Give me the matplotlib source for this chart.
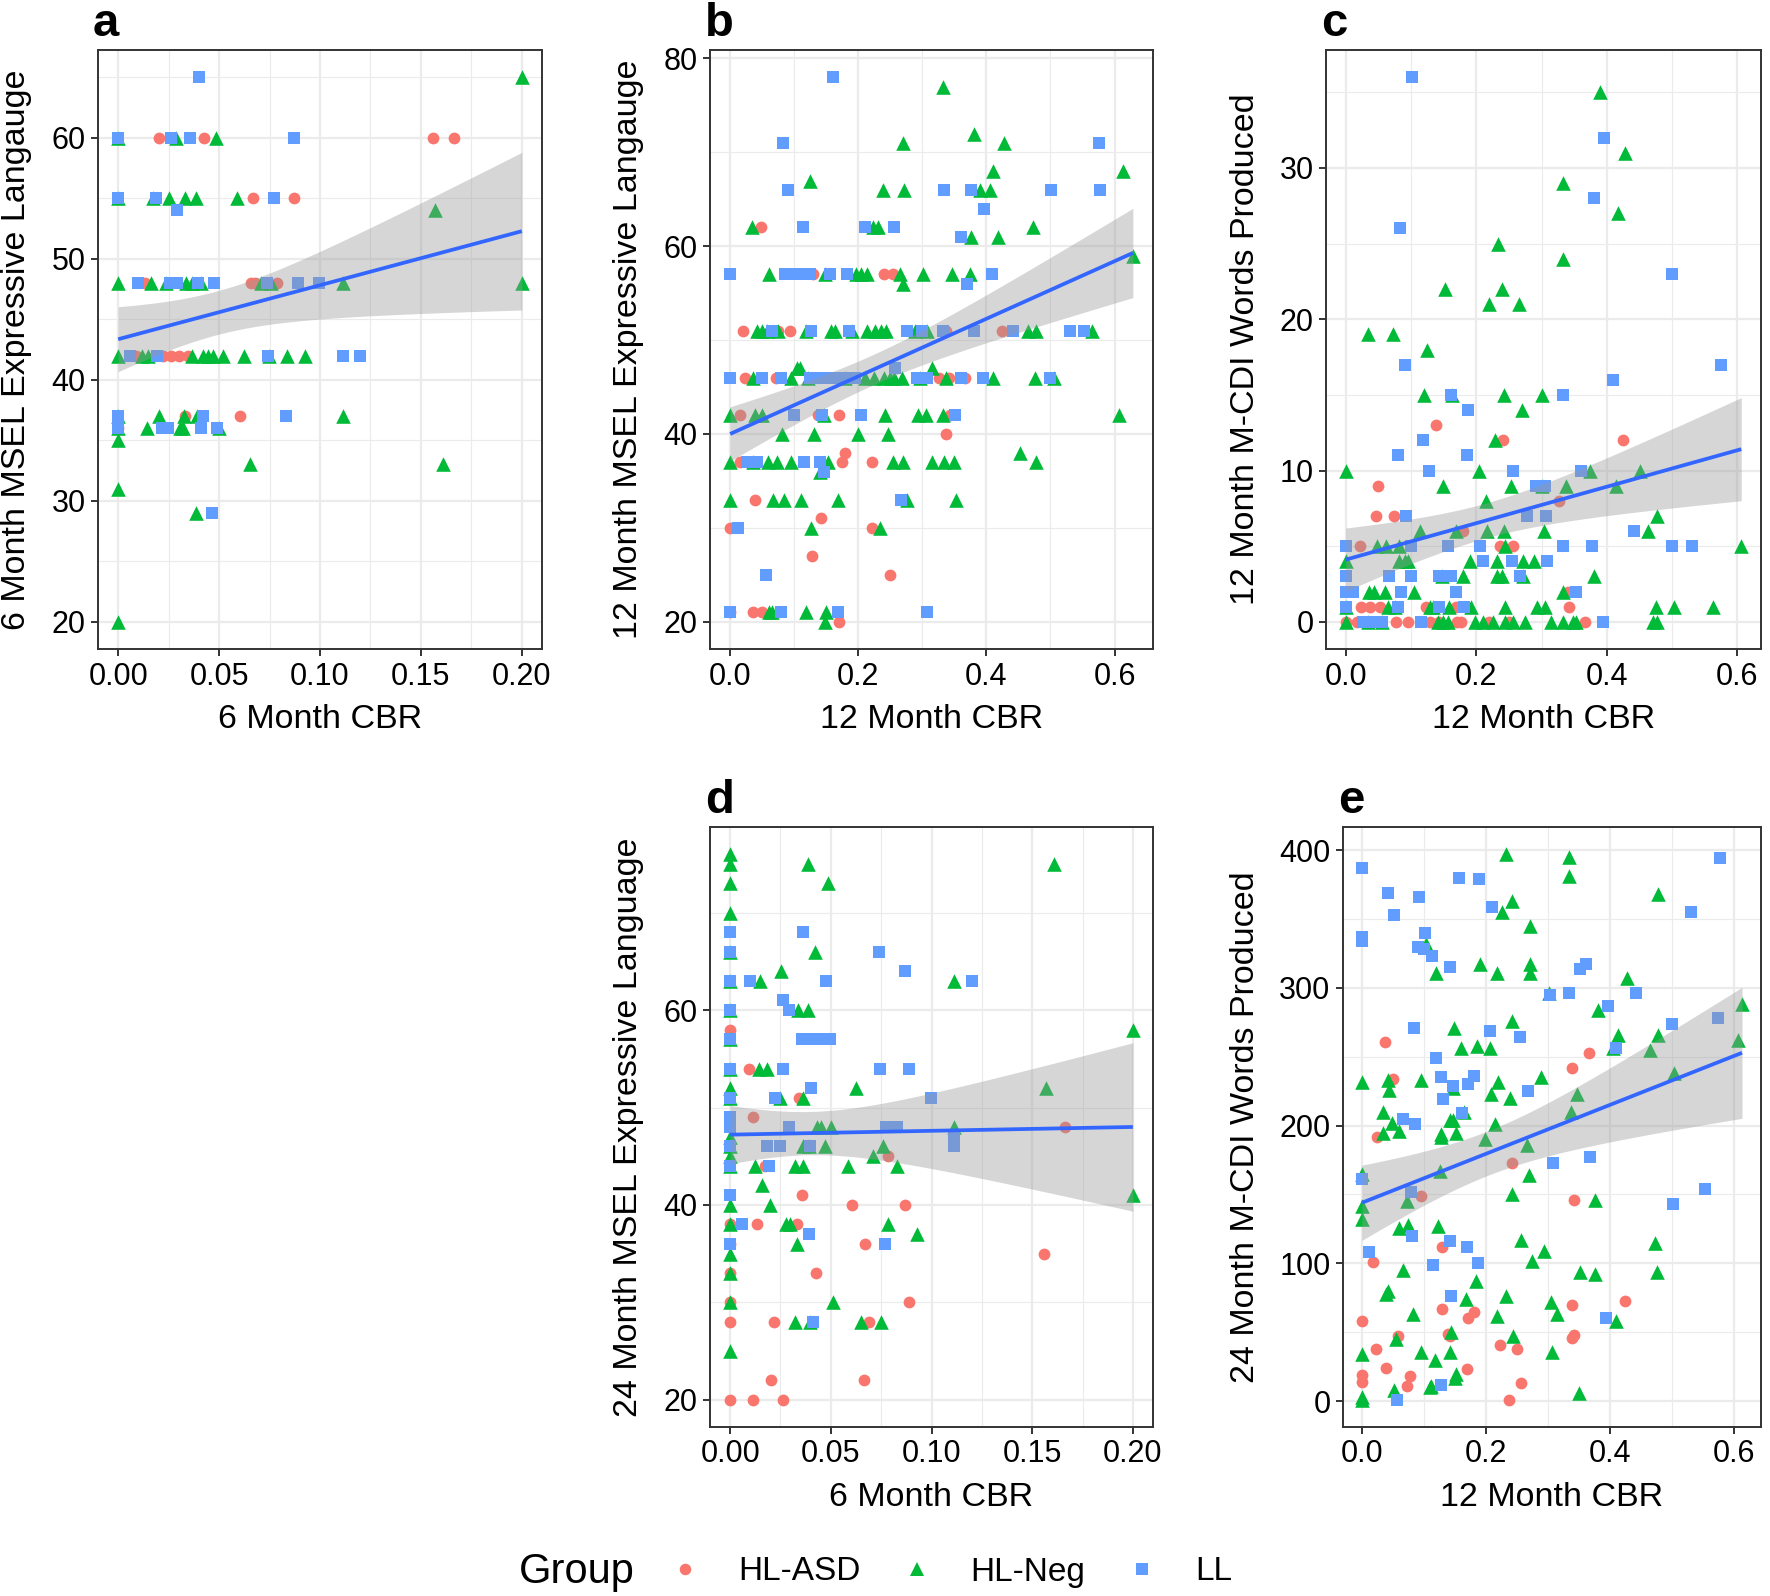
import numpy as np
import matplotlib
matplotlib.use("Agg")
import matplotlib.pyplot as plt
from matplotlib.lines import Line2D
from matplotlib.ticker import FixedLocator, FormatStrFormatter

plt.rcParams['font.family'] = ['Liberation Sans', 'DejaVu Sans']

groups = ["HL-ASD", "HL-Neg", "LL"]
colors = {"HL-ASD": "#F8766D", "HL-Neg": "#00BA38", "LL": "#619CFF"}
markers = {"HL-ASD": "o", "HL-Neg": "^", "LL": "s"}
msize = {"HL-ASD": 72, "HL-Neg": 110, "LL": 66}

# ---------------- panel a : 6 month CBR vs 6 month MSEL EL ----------------
a_asd = [(0.0203,60),(0.0426,60),(0.1558,60),(0.1666,60),(0.067,55),(0.0869,55),
         (0.0132,48),(0.066,48),(0.068,48),(0.0785,48),(0.009,42),(0.022,42),(0.0264,42),
         (0.030,42),(0.0347,42),(0.033,37),(0.0603,37),(0,36)]
a_neg = [(0.2,65),(0,60),(0.0286,60),(0.0484,60),(0,55),(0.0174,55),(0.0253,55),(0.033,55),
         (0.0388,55),(0.059,55),(0.157,54),(0,48),(0.0162,48),(0.0236,48),(0.0335,48),(0.0365,48),
         (0.041,48),(0.071,48),(0.0755,48),(0.1115,48),(0.2,48),(0,42),(0.0116,42),(0.0149,42),
         (0.0364,42),(0.0421,42),(0.0445,42),(0.047,42),(0.0517,42),(0.0625,42),(0.0749,42),
         (0.0835,42),(0.0925,42),(0,37),(0.0202,37),(0.0326,37),(0.039,37),(0.1112,37),(0,36),
         (0.0145,36),(0.0306,36),(0.0322,36),(0.05,36),(0,35),(0.0653,33),(0.161,33),(0,31),
         (0.0388,29),(0,20)]
a_ll = [(0.040,65),(0,60),(0.0264,60),(0.0355,60),(0.0869,60),(0,55),(0.0187,55),(0.0772,55),
        (0.0289,54),(0.0099,48),(0.0256,48),(0.029,48),(0.0397,48),(0.0474,48),(0.0739,48),
        (0.0892,48),(0.0997,48),(0.0058,42),(0.019,42),(0.0744,42),(0.1112,42),(0.1198,42),
        (0,37),(0.0421,37),(0.0831,37),(0,36),(0.0215,36),(0.0248,36),(0.041,36),(0.0488,36),
        (0.0464,29)]

# ---------------- panel b : 12 month CBR vs 12 month MSEL EL ----------------
b_asd = [(0.0478,62),(0.13,57),(0.2405,57),(0.2545,57),(0.0208,51),(0.075,51),(0.0935,51),
         (0.3366,51),(0.4244,51),(0.0234,46),(0.0717,46),(0.326,46),(0.342,46),(0.366,46),
         (0.0156,42),(0.1377,42),(0.170,42),(0.343,42),(0.3366,40),(0.1797,38),(0.0156,37),
         (0.175,37),(0.2218,37),(0.039,33),(0.1418,31),(0,30),(0.2218,30),(0.127,27),(0.249,25),
         (0,21),(0.0364,21),(0.0504,21),(0.170,20)]
b_neg = [(0.333,77),(0.381,72),(0.270,71),(0.4275,71),(0.411,68),(0.613,68),(0.1247,67),
         (0.238,66),(0.271,66),(0.39,66),(0.405,66),(0.0338,62),(0.2234,62),(0.231,62),(0.4727,62),
         (0.3766,61),(0.418,61),(0.6286,59),(0.0613,57),(0.148,57),(0.197,57),(0.205,57),(0.213,57),
         (0.265,57),(0.301,57),(0.3465,57),(0.375,57),(0.270,56),(0.0416,51),(0.049,51),(0.057,51),
         (0.074,51),(0.119,51),(0.158,51),(0.164,51),(0.19,51),(0.213,51),(0.226,51),(0.236,51),
         (0.244,51),(0.288,51),(0.3065,51),(0.465,51),(0.478,51),(0.565,51),(0.104,47),(0.109,47),
         (0.315,47),(0.036,46),(0.0945,46),(0.121,46),(0.180,46),(0.21,46),(0.225,46),(0.24,46),
         (0.25,46),(0.256,46),(0.269,46),(0.296,46),(0.3377,46),(0.410,46),(0.476,46),(0.505,46),
         (0,42),(0.039,42),(0.049,42),(0.1465,42),(0.2416,42),(0.2935,42),(0.3055,42),(0.3325,42),
         (0.6062,42),(0.0805,40),(0.1314,40),(0.20,40),(0.2457,40),(0.452,38),(0,37),(0.035,37),
         (0.0587,37),(0.0727,37),(0.0945,37),(0.153,37),(0.2535,37),(0.270,37),(0.315,37),(0.334,37),
         (0.349,37),(0.4769,37),(0.141,36),(0,33),(0.0675,33),(0.0842,33),(0.1106,33),(0.168,33),
         (0.276,33),(0.352,33),(0.126,30),(0.2338,30),(0.0608,21),(0.066,21),(0.1184,21),(0.1496,21),
         (0.1486,20)]
b_ll = [(0.160,78),(0.083,71),(0.575,71),(0.0899,66),(0.3335,66),(0.3766,66),(0.501,66),(0.577,66),
        (0.396,64),(0.1143,62),(0.2104,62),(0.2556,62),(0.361,61),(0,57),(0.085,57),(0.095,57),
        (0.105,57),(0.115,57),(0.125,57),(0.156,57),(0.182,57),(0.409,57),(0.369,56),(0.065,51),
        (0.126,51),(0.186,51),(0.276,51),(0.299,51),(0.3325,51),(0.380,51),(0.4416,51),(0.53,51),
        (0.553,51),(0.257,47),(0,46),(0.0504,46),(0.0795,46),(0.125,46),(0.135,46),(0.145,46),
        (0.155,46),(0.165,46),(0.175,46),(0.185,46),(0.195,46),(0.291,46),(0.3065,46),(0.361,46),
        (0.394,46),(0.4987,46),(0.100,42),(0.143,42),(0.205,42),(0.3506,42),(0.026,37),(0.0416,37),
        (0.1158,37),(0.141,37),(0.1465,36),(0.2665,33),(0.012,30),(0.0561,25),(0,21),(0.079,21),
        (0.1688,21),(0.308,21)]

# ---------------- panel c : 12 month CBR vs 12 month M-CDI words ----------------
c_asd = [(0.139,13),(0.241,12),(0.4245,12),(0.05,9),(0.3275,8),(0.047,7),(0.0735,7),(0.18,6),
         (0.0225,5),(0.237,5),(0.256,5),(0.341,2),(0.0235,1),(0.037,1),(0.0525,1),(0.1225,1),
         (0.1685,1),(0.342,1),(0,0),(0.017,0),(0.077,0),(0.095,0),(0.1285,0),(0.1425,0),(0.171,0),
         (0.177,0),(0.22,0),(0.25,0),(0.366,0)]
c_neg = [(0.39,35),(0.4275,31),(0.3335,29),(0.4175,27),(0.2335,25),(0.3335,24),(0.1525,22),
         (0.2395,22),(0.2195,21),(0.266,21),(0.0345,19),(0.072,19),(0.125,18),(0.12,15),(0.1635,15),
         (0.2425,15),(0.301,15),(0.27,14),(0.2285,12),(0,10),(0.2045,10),(0.375,10),(0.451,10),
         (0.149,9),(0.2525,9),(0.30,9),(0.3375,9),(0.4135,9),(0.2145,8),(0.477,7),(0.114,6),
         (0.169,6),(0.217,6),(0.242,6),(0.304,6),(0.4635,6),(0.0485,5),(0.061,5),(0.081,5),
         (0.2435,5),(0.606,5),(0,4),(0.081,4),(0.091,4),(0.096,4),(0.191,4),(0.2325,4),(0.271,4),
         (0.2885,4),(0.147,3),(0.18,3),(0.231,3),(0.24,3),(0.271,3),(0.381,3),(0.035,2),(0.0435,2),
         (0.0595,2),(0.1045,2),(0.3335,2),(0,1),(0.065,1),(0.076,1),(0.1285,1),(0.1335,1),
         (0.1585,1),(0.192,1),(0.2445,1),(0.2935,1),(0.306,1),(0.476,1),(0.5035,1),(0.5635,1),
         (0,0),(0.0335,0),(0.056,0),(0.141,0),(0.1485,0),(0.156,0),(0.1985,0),(0.211,0),(0.226,0),
         (0.2435,0),(0.256,0),(0.275,0),(0.315,0),(0.3325,0),(0.3485,0),(0.3535,0),(0.471,0),
         (0.4775,0)]
c_ll = [(0.101,36),(0.396,32),(0.381,28),(0.0835,26),(0.4995,23),(0.091,17),(0.5745,17),
        (0.4095,16),(0.161,15),(0.3325,15),(0.188,14),(0.119,12),(0.08,11),(0.186,11),(0.127,10),
        (0.257,10),(0.361,10),(0.291,9),(0.305,9),(0.092,7),(0.277,7),(0.3075,7),(0.442,6),(0,5),
        (0.10,5),(0.156,5),(0.205,5),(0.3325,5),(0.3775,5),(0.4995,5),(0.531,5),(0.21,4),(0.255,4),
        (0.3085,4),(0,3),(0.066,3),(0.10,3),(0.1435,3),(0.161,3),(0.267,3),(0,2),(0.011,2),
        (0.085,2),(0.169,2),(0.3535,2),(0,1),(0.0795,1),(0.1435,1),(0.181,1),(0.026,0),(0.041,0),
        (0.056,0),(0.116,0),(0.394,0)]

# ---------------- panel d : 6 month CBR vs 24 month MSEL EL ----------------
d_asd = [(0,58),(0.0096,54),(0.0342,51),(0.0112,49),(0.1664,48),(0.0782,45),(0.0174,44),
         (0.0355,41),(0.0603,40),(0.0868,40),(0,38),(0.0132,38),(0.033,38),(0,36),(0.067,36),
         (0.1557,35),(0,33),(0.0426,33),(0,30),(0.0888,30),(0,28),(0.022,28),(0.0689,28),
         (0.0202,22),(0.0664,22),(0,20),(0.0116,20),(0.0264,20)]
d_neg = [(0,76),(0,75),(0.0388,75),(0.161,75),(0,73),(0.0484,73),(0,70),(0,66),(0.042,66),
         (0.0253,64),(0,63),(0.0149,63),(0.111,63),(0,60),(0.0336,60),(0.0385,60),(0.2,58),(0,57),
         (0,54),(0.0145,54),(0.0185,54),(0,52),(0.0625,52),(0.157,52),(0,51),(0.0248,51),
         (0.0364,51),(0.043,48),(0.045,48),(0.050,48),(0.111,48),(0,47),(0,46),(0.0364,46),
         (0.0393,46),(0.047,46),(0.0757,46),(0,45),(0.071,45),(0,44),(0.0124,44),(0.0322,44),
         (0.0364,44),(0.0587,44),(0.0831,44),(0.0157,42),(0,40),(0.0198,40),(0.2,41),(0,38),
         (0.0278,38),(0.0298,38),(0.0785,38),(0.0926,37),(0.033,36),(0,35),(0,33),(0,30),
         (0.0512,30),(0.0322,28),(0.0397,28),(0.065,28),(0.0747,28),(0,25)]
d_ll = [(0,68),(0.0364,68),(0,66),(0.0739,66),(0.0868,64),(0,63),(0.0099,63),(0.0474,63),
        (0.12,63),(0.0264,61),(0,60),(0.029,60),(0,57),(0.0355,57),(0.0397,57),(0.0455,57),
        (0.0496,57),(0,54),(0.0261,54),(0.0744,54),(0.0889,54),(0,51),(0.0223,51),(0.04,52),
        (0.0997,51),(0,49),(0,48),(0.0293,48),(0.0772,48),(0.083,48),(0.111,47),(0.111,46),
        (0,46),(0.0185,46),(0.0248,46),(0.0397,46),(0,44),(0.0195,44),(0,41),(0.0061,38),
        (0.0393,37),(0,36),(0.0769,36),(0.0413,28)]

# ---------------- panel e : 12 month CBR vs 24 month M-CDI words ----------------
e_asd = [(0.0373,261),(0.366,253),(0.3384,242),(0.0497,234),(0.0243,192),(0.2416,173),
         (0.0946,149),(0.3427,146),(0.1292,112),(0.0173,101),(0.339,70),(0.4254,73),(0.1286,67),
         (0.1805,65),(0.1714,60),(0,58),(0.0578,47),(0.139,49),(0.1427,47),(0.339,46),(0.3416,48),
         (0.0227,38),(0.2227,41),(0.25,38),(0.039,24),(0.1703,23),(0,19),(0,14),(0.0768,18),
         (0.073,11),(0.256,13),(0.2373,1)]
e_neg = [(0.2324,397),(0.3335,395),(0.3335,381),(0.478,368),(0.2427,363),(0.2254,355),(0.2714,345),
         (0.1038,332),(0.119,311),(0.191,317),(0.2173,311),(0.2714,317),(0.2714,311),(0.428,307),
         (0.3016,296),(0.3805,284),(0.6135,288),(0.2422,276),(0.1486,271),(0.413,266),(0.478,266),
         (0.6065,262),(0.1595,256),(0.186,258),(0.2065,256),(0.405,256),(0.4643,255),(0.5038,238),
         (0.0427,233),(0,232),(0.0946,233),(0.22,232),(0.2886,235),(0.147,227),(0.0432,226),
         (0.2076,223),(0.239,220),(0.347,223),(0.0346,210),(0.0486,202),(0.0346,195),(0.059,196),
         (0.127,194),(0.127,192),(0.1416,204),(0.147,204),(0.1524,195),(0.165,210),(0.2146,201),
         (0.3373,210),(0.198,190),(0.266,186),(0.1254,167),(0.27,164),(0,165),(0.2427,150),
         (0.3757,146),(0,142),(0.0724,145),(0,132),(0.059,126),(0.074,128),(0.1227,127),(0.2568,117),
         (0.2946,109),(0.2751,102),(0.473,115),(0.4768,94),(0.0665,95),(0.3514,94),(0.3757,92),
         (0.1838,87),(0.039,78),(0.0416,80),(0.1686,74),(0.2324,76),(0.305,72),(0.3146,63),
         (0.0822,63),(0.2184,62),(0.41,58),(0.0551,45),(0.1443,50),(0.2432,47),(0,34),(0.0946,36),
         (0.1427,36),(0.3065,36),(0.1173,30),(0.1514,20),(0.1497,17),(0.1103,10),(0.112,11),
         (0.0524,8),(0,3),(0,1),(0.3497,6)]
e_ll = [(0.578,394),(0,387),(0.156,380),(0.1886,379),(0.0427,369),(0.0924,366),(0.210,359),
        (0.531,355),(0.0514,353),(0.101,340),(0,337),(0,334),(0.0903,330),(0.1,328),(0.1135,323),
        (0.1427,315),(0.3524,314),(0.3616,317),(0.3038,295),(0.3335,296),(0.4427,296),(0.3968,287),
        (0.5,274),(0.575,278),(0.0838,271),(0.2065,269),(0.255,264),(0.41,256),(0.119,249),
        (0.127,235),(0.181,236),(0.1714,230),(0.147,229),(0.2676,225),(0.1308,219),(0.066,205),
        (0.086,201),(0.1616,209),(0.3076,173),(0.3686,177),(0,161),(0.5535,154),(0.5027,143),
        (0.0795,152),(0.0805,120),(0.1427,116),(0.1697,112),(0.0119,108),(0.1151,99),(0.1865,100),
        (0.1443,76),(0.394,60),(0.127,12),(0.0568,1)]

# tick values
a_xticks = [0, 0.05, 0.10, 0.15, 0.20]; a_yticks = [20, 30, 40, 50, 60]
b_xticks = [0, 0.2, 0.4, 0.6];          b_yticks = [20, 40, 60, 80]
c_xticks = [0, 0.2, 0.4, 0.6];          c_yticks = [0, 10, 20, 30]
d_xticks = [0, 0.05, 0.10, 0.15, 0.20]; d_yticks = [20, 40, 60]
e_xticks = [0, 0.2, 0.4, 0.6];          e_yticks = [0, 100, 200, 300, 400]

W, H = 1770, 1596
fig = plt.figure(figsize=(W / 100, H / 100), dpi=100)

TICK_FS = 22
LAB_FS = 24.5

def t975(df):
    z = 1.959964
    return z + (z**3 + z) / (4 * df) + (5 * z**5 + 16 * z**3 + 3 * z) / (96 * df**2)

def panel(box, data, xticks, yticks, xfmt, xlabel, ylabel, letter, ylab_x):
    left, right, top, bottom = box
    ax = fig.add_axes([left / W, 1 - bottom / H, (right - left) / W, (bottom - top) / H])
    allx, ally = [], []
    for g, pts in zip(groups, data):
        x = np.array([p[0] for p in pts]); y = np.array([p[1] for p in pts])
        allx.append(x); ally.append(y)
        ax.scatter(x, y, s=msize[g], marker=markers[g], color=colors[g], linewidths=0, zorder=2)
    X = np.concatenate(allx); Y = np.concatenate(ally)
    # linear fit with 95% confidence band (geom_smooth(method = "lm"))
    n = len(X)
    slope, icpt = np.polyfit(X, Y, 1)
    resid = Y - (icpt + slope * X)
    s = np.sqrt(np.sum(resid**2) / (n - 2))
    xs = np.linspace(X.min(), X.max(), 80)
    se = s * np.sqrt(1 / n + (xs - X.mean())**2 / np.sum((X - X.mean())**2))
    fit = icpt + slope * xs
    tq = t975(n - 2)
    ax.fill_between(xs, fit - tq * se, fit + tq * se, color="#999999", alpha=0.4, linewidth=0, zorder=3)
    ax.plot(xs, fit, color="#3366FF", lw=2.7, zorder=4, solid_capstyle="butt")
    # limits with ggplot's 5% expansion
    xr = X.max() - X.min(); yr = Y.max() - Y.min()
    ax.set_xlim(X.min() - 0.05 * xr, X.max() + 0.05 * xr)
    ax.set_ylim(Y.min() - 0.05 * yr, Y.max() + 0.05 * yr)
    ax.xaxis.set_major_locator(FixedLocator(xticks))
    ax.yaxis.set_major_locator(FixedLocator(yticks))
    ax.xaxis.set_major_formatter(FormatStrFormatter(xfmt))
    xmin = [(xticks[i] + xticks[i + 1]) / 2 for i in range(len(xticks) - 1)]
    ymin_t = [(yticks[i] + yticks[i + 1]) / 2 for i in range(len(yticks) - 1)]
    dy = yticks[1] - yticks[0]
    ymin_t = [yticks[0] - dy / 2] + ymin_t + [yticks[-1] + dy / 2]
    ax.xaxis.set_minor_locator(FixedLocator(xmin))
    ax.yaxis.set_minor_locator(FixedLocator(ymin_t))
    ax.set_axisbelow(True)
    ax.grid(True, which="major", color="#EBEBEB", lw=1.6)
    ax.grid(True, which="minor", color="#EBEBEB", lw=0.8)
    ax.tick_params(which="minor", length=0)
    ax.tick_params(which="major", length=5, width=1.4, color="#333333", labelsize=TICK_FS,
                   labelcolor="black", pad=4)
    for sp in ax.spines.values():
        sp.set_color("#333333"); sp.set_linewidth(1.4)
    cx = (left + right) / 2
    fig.text(cx / W, 1 - (bottom + 70) / H, xlabel, ha="center", va="center", fontsize=LAB_FS)
    fig.text(ylab_x / W, 1 - ((top + bottom) / 2) / H, ylabel, ha="center", va="center",
             rotation=90, fontsize=LAB_FS)
    fig.text((left - 5) / W, 1 - (top - 14) / H, letter, ha="left", va="baseline",
             fontsize=34, fontweight="bold")
    return ax

panel((98, 542, 50, 649), [a_asd, a_neg, a_ll], a_xticks, a_yticks, "%.2f",
      "6 Month CBR", "6 Month MSEL Expressive Langauge", "a", 17)
panel((710, 1153, 50, 649), [b_asd, b_neg, b_ll], b_xticks, b_yticks, "%.1f",
      "12 Month CBR", "12 Month MSEL Expressive Langauge", "b", 629)
panel((1326, 1761, 50, 649), [c_asd, c_neg, c_ll], c_xticks, c_yticks, "%.1f",
      "12 Month CBR", "12 Month M-CDI Words Produced", "c", 1245)
panel((710, 1153, 827, 1427), [d_asd, d_neg, d_ll], d_xticks, d_yticks, "%.2f",
      "6 Month CBR", "24 Month MSEL Expressive Language", "d", 629)
panel((1343, 1761, 827, 1427), [e_asd, e_neg, e_ll], e_xticks, e_yticks, "%.1f",
      "12 Month CBR", "24 Month M-CDI Words Produced", "e", 1245)

# legend
fig.text(519 / W, 1 - 1572 / H, "Group", ha="left", va="center", fontsize=30)
handles = [Line2D([], [], ls="none", marker=markers[g], color=colors[g], markeredgewidth=0,
                  markersize=(10.5 if g == "HL-Neg" else 8.3)) for g in groups]
fig.legend(handles, groups, loc="center left", bbox_to_anchor=(668 / W, 1 - 1572 / H),
           ncol=3, frameon=False, fontsize=24, handlelength=1.0, handletextpad=1.1,
           columnspacing=1.2, borderpad=0, borderaxespad=0)

fig.savefig("out.png", dpi=100)
